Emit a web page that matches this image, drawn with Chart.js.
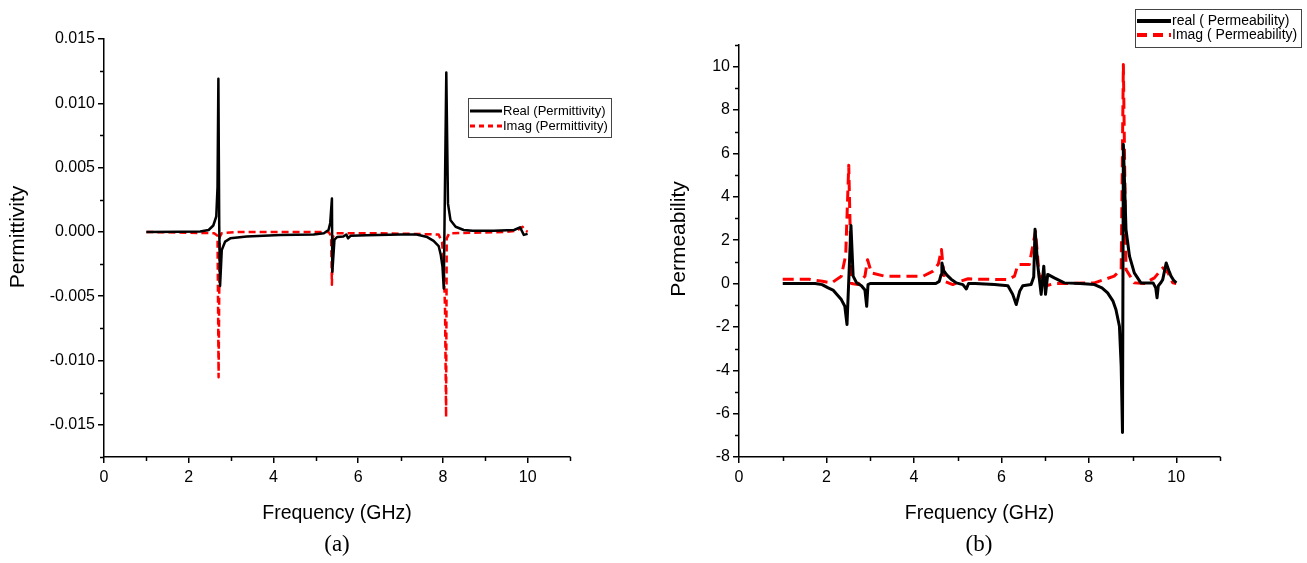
<!DOCTYPE html>
<html>
<head>
<meta charset="utf-8">
<title>Permittivity and Permeability</title>
<script src="https://cdn.jsdelivr.net/npm/chart.js@4.4.1/dist/chart.umd.min.js"></script>
<style>
  body { margin: 0; background: #fff; }
  .panel { position: absolute; top: 0; }
  .caption {
    position: absolute;
    font-family: 'Times New Roman', 'Liberation Serif', serif;
    font-size: 23px;
    color: #000;
    transform: translateX(-50%);
  }
</style>
</head>
<body>
<div class="panel" style="left:0"><canvas id="permittivityChart" width="650" height="563"></canvas></div>
<div class="panel" style="left:650px"><canvas id="permeabilityChart" width="657" height="563"></canvas></div>
<div class="caption" style="left:337px; top:531px">(a)</div>
<div class="caption" style="left:979px; top:531px">(b)</div>
<script>
// (a) permittivity
const realAFreq = [1.0, 1.8, 2.27, 2.47, 2.58, 2.65, 2.68, 2.70, 2.72, 2.74, 2.78, 2.86, 2.98, 3.37, 4.16, 4.95, 5.19, 5.30, 5.34, 5.38, 5.39, 5.44, 5.50, 5.65, 5.72, 5.76, 5.82, 6.2, 7.0, 7.38, 7.63, 7.78, 7.90, 7.95, 7.99, 8.02, 8.08, 8.12, 8.18, 8.30, 8.49, 8.70, 9.2, 9.68, 9.82, 9.91, 10.0];
const realAVal = [0, 0.00002, 0.00003, 0.00015, 0.0005, 0.0012, 0.0035, 0.0119, 0.0005, -0.0042, -0.0014, -0.00075, -0.0005, -0.00036, -0.00023, -0.0002, -0.0001, 0.00015, 0.0007, 0.0026, -0.0031, -0.0006, -0.0004, -0.00035, -0.0002, -0.0005, -0.0003, -0.00025, -0.0002, -0.0002, -0.0004, -0.0007, -0.0011, -0.0018, -0.0027, -0.0044, 0.0124, 0.0022, 0.0009, 0.0004, 0.00015, 0.0001, 0.0001, 0.00015, 0.00036, -0.00023, -0.00015];
const imagAFreq = [1.0, 2.6, 2.68, 2.705, 2.73, 2.78, 3.2, 5.3, 5.36, 5.38, 5.40, 5.46, 6.5, 7.9, 7.98, 8.02, 8.05, 8.075, 8.09, 8.15, 9.5, 9.75, 9.83, 9.88, 9.95, 10.0];
const imagAVal = [0, -0.0001, -0.0003, -0.0113, -0.0004, -0.0001, 0, 0, -0.0003, -0.0041, -0.0004, -0.0001, -0.0001, -0.0002, -0.0008, -0.0025, -0.006, -0.0144, -0.0005, -0.0001, 0, 0.0001, 0.0003, 0.0004, 0.0001, 0];

// (b) permeability
const realBFreq = [1.0, 1.74, 1.9, 2.04, 2.15, 2.27, 2.34, 2.42, 2.47, 2.56, 2.61, 2.69, 2.80, 2.88, 2.92, 2.95, 3.0, 4.5, 4.58, 4.62, 4.64, 4.68, 4.75, 4.85, 4.97, 5.12, 5.20, 5.25, 5.4, 5.84, 6.15, 6.26, 6.34, 6.42, 6.49, 6.68, 6.74, 6.77, 6.83, 6.91, 6.97, 7.01, 7.06, 7.21, 7.44, 7.8, 8.13, 8.30, 8.43, 8.55, 8.62, 8.70, 8.74, 8.77, 8.79, 8.85, 8.93, 9.04, 9.19, 9.47, 9.53, 9.56, 9.59, 9.65, 9.69, 9.77, 9.83, 9.88, 9.94, 10.0];
const realBVal = [0, 0, -0.05, -0.2, -0.3, -0.58, -0.74, -1.05, -1.89, 2.68, 0.34, 0.03, -0.1, -0.3, -1.05, -0.05, 0, 0, 0.1, 0.4, 0.95, 0.6, 0.4, 0.2, 0.03, -0.05, -0.25, 0, 0, -0.05, -0.1, -0.5, -0.97, -0.35, -0.1, -0.05, 0.3, 2.5, 0.88, -0.5, 0.8, -0.5, 0.42, 0.26, 0.03, 0, -0.05, -0.2, -0.43, -0.8, -1.2, -1.97, -3.8, -6.87, 6.41, 2.49, 1.26, 0.49, 0.03, 0.03, -0.2, -0.66, -0.1, 0.05, 0.18, 0.95, 0.6, 0.34, 0.15, 0.03];
const imagBFreq = [1.0, 1.6, 1.74, 1.91, 2.12, 2.34, 2.44, 2.51, 2.57, 2.72, 2.88, 2.94, 3.03, 3.33, 4.21, 4.44, 4.56, 4.63, 4.70, 4.89, 5.05, 5.24, 5.5, 6.15, 6.30, 6.38, 6.64, 6.78, 6.87, 6.99, 7.03, 7.21, 7.44, 8.13, 8.58, 8.74, 8.79, 8.85, 9.04, 9.27, 9.50, 9.69, 9.81, 9.92, 10.0];
const imagBVal = [0.2, 0.2, 0.15, 0.1, 0.03, 0.34, 1.3, 5.45, 0, -0.05, 0.34, 1.1, 0.49, 0.34, 0.34, 0.57, 0.9, 1.57, 0.1, -0.05, 0.1, 0.22, 0.2, 0.18, 0.34, 0.88, 0.88, 2.41, 0.26, 0.42, -0.1, 0, 0, 0.03, 0.34, 0.65, 10.1, 0.65, 0.03, 0, 0.26, 0.72, 0.5, 0.03, 0];

// ticks
const freqTicks = [0, 2, 4, 6, 8, 10];
const freqMinor = [1, 3, 5, 7, 9, 11];
const permittivityTicks = [-0.015, -0.010, -0.005, 0, 0.005, 0.010, 0.015];
const permittivityMinor = [-0.0175, -0.0125, -0.0075, -0.0025, 0.0025, 0.0075, 0.0125];
const permeabilityTicks = [-8, -6, -4, -2, 0, 2, 4, 6, 8, 10];
const permeabilityMinor = [-7, -5, -3, -1, 1, 3, 5, 7, 9, 11];

const FONT = "Arial, 'Liberation Sans', sans-serif";
const toPoints = (xs, ys) => xs.map((x, i) => ({ x: x, y: ys[i] }));

// minor ticks, y title and boxed legend, placed like the Origin plot
const extrasPlugin = {
  id: 'extras',
  afterDraw(chart, args, opts) {
    const ctx = chart.ctx;
    const xs = chart.scales.x;
    const ys = chart.scales.y;
    ctx.save();
    ctx.strokeStyle = '#000';
    ctx.lineWidth = 1.5;
    opts.minorX.forEach(v => {
      const px = Math.round(xs.getPixelForValue(v)) + 0.5;
      ctx.beginPath();
      ctx.moveTo(px, xs.top);
      ctx.lineTo(px, xs.top + 4);
      ctx.stroke();
    });
    opts.minorY.forEach(v => {
      const py = Math.round(ys.getPixelForValue(v)) + 0.5;
      ctx.beginPath();
      ctx.moveTo(ys.right - 4, py);
      ctx.lineTo(ys.right, py);
      ctx.stroke();
    });

    // y axis title (sits a little above the axis centre in the original)
    const t = opts.yTitle;
    ctx.save();
    ctx.translate(t.x, t.y);
    ctx.rotate(-Math.PI / 2);
    ctx.fillStyle = '#000';
    ctx.font = t.size + 'px ' + FONT;
    ctx.textAlign = 'center';
    ctx.textBaseline = 'middle';
    ctx.fillText(t.text, 0, 0);
    ctx.restore();

    const lg = opts.legend;
    ctx.lineWidth = 1;
    ctx.strokeStyle = '#444';
    ctx.strokeRect(lg.left + 0.5, lg.top + 0.5, lg.width, lg.height);
    chart.data.datasets.forEach((ds, i) => {
      const y = lg.top + lg.firstRow + i * lg.rowGap;
      ctx.beginPath();
      ctx.setLineDash(lg.dash[i]);
      ctx.strokeStyle = ds.borderColor;
      ctx.lineWidth = lg.lineWidth;
      ctx.moveTo(lg.left + 2, y);
      ctx.lineTo(lg.left + 2 + lg.sample, y);
      ctx.stroke();
      ctx.setLineDash([]);
      ctx.fillStyle = '#000';
      ctx.font = lg.fontSize + 'px ' + FONT;
      ctx.textBaseline = 'middle';
      ctx.fillText(ds.label, lg.left + lg.sample + lg.gap, y);
    });
    ctx.restore();
  }
};

function makeChart(canvasId, cfg) {
  return new Chart(document.getElementById(canvasId), {
    type: 'line',
    data: {
      datasets: [{
        label: cfg.labels[0],
        data: toPoints(cfg.realFreq, cfg.realVal),
        borderColor: '#000',
        borderWidth: cfg.lineWidth,
        borderJoinStyle: 'round',
        pointRadius: 0,
        tension: 0,
      }, {
        label: cfg.labels[1],
        data: toPoints(cfg.imagFreq, cfg.imagVal),
        borderColor: '#ff0000',
        borderWidth: cfg.lineWidth,
        borderDash: cfg.dash,
        borderJoinStyle: 'round',
        pointRadius: 0,
        tension: 0,
      }],
    },
    options: {
      responsive: false,
      animation: false,
      events: [],
      layout: { padding: cfg.padding },
      plugins: {
        legend: { display: false },
        tooltip: { enabled: false },
        extras: {
          minorX: freqMinor,
          minorY: cfg.minorY,
          yTitle: cfg.yTitle,
          legend: cfg.legend,
        },
      },
      scales: {
        x: {
          type: 'linear',
          min: 0,
          max: 11,
          afterBuildTicks: scale => { scale.ticks = freqTicks.map(v => ({ value: v })); },
          afterFit: scale => { scale.height = 106; },
          grid: { drawOnChartArea: false, color: '#000', lineWidth: 1.5, tickLength: 6 },
          border: { color: '#000', width: 1.5 },
          ticks: {
            color: '#000',
            autoSkip: false,
            maxRotation: 0,
            padding: 5,
            font: { family: FONT, size: 16 },
            callback: v => String(v),
          },
          title: {
            display: true,
            text: 'Frequency (GHz)',
            color: '#000',
            font: { family: FONT, size: 19.5 },
            padding: { bottom: 38 },
          },
        },
        y: {
          min: cfg.yMin,
          max: cfg.yMax,
          afterBuildTicks: scale => { scale.ticks = cfg.yTicks.map(v => ({ value: v })); },
          afterFit: scale => { scale.width = cfg.yWidth; },
          grid: { drawOnChartArea: false, color: '#000', lineWidth: 1.5, tickLength: 6 },
          border: { color: '#000', width: 1.5 },
          ticks: {
            color: '#000',
            autoSkip: false,
            padding: 3,
            font: { family: FONT, size: 16 },
            callback: cfg.yFormat,
          },
        },
      },
    },
    plugins: [extrasPlugin],
  });
}

makeChart('permittivityChart', {
  labels: ['Real (Permittivity)', 'Imag (Permittivity)'],
  realFreq: realAFreq, realVal: realAVal,
  imagFreq: imagAFreq, imagVal: imagAVal,
  lineWidth: 2.5,
  dash: [7, 4],
  padding: { left: 0, top: 39, right: 80, bottom: 0 },
  yMin: -0.0175, yMax: 0.015,
  yTicks: permittivityTicks,
  minorY: permittivityMinor,
  yWidth: 104,
  yFormat: v => v.toFixed(3),
  yTitle: { text: 'Permittivity', x: 18, y: 237, size: 21 },
  legend: { left: 468, top: 98, width: 143, height: 39, firstRow: 13, rowGap: 15, sample: 32, gap: 3, fontSize: 13, lineWidth: 3, dash: [[], [5, 4]] },
});

makeChart('permeabilityChart', {
  labels: ['real ( Permeability)', 'Imag ( Permeability)'],
  realFreq: realBFreq, realVal: realBVal,
  imagFreq: imagBFreq, imagVal: imagBVal,
  lineWidth: 3,
  dash: [11, 6],
  padding: { left: 0, top: 45, right: 87, bottom: 0 },
  yMin: -8, yMax: 11,
  yTicks: permeabilityTicks,
  minorY: permeabilityMinor,
  yWidth: 89,
  yFormat: v => String(v),
  yTitle: { text: 'Permeability', x: 29, y: 239, size: 21 },
  legend: { left: 485, top: 9, width: 166, height: 38, firstRow: 12, rowGap: 14, sample: 34, gap: 3, fontSize: 14, lineWidth: 4, dash: [[], [10, 6]] },
});
</script>
</body>
</html>
